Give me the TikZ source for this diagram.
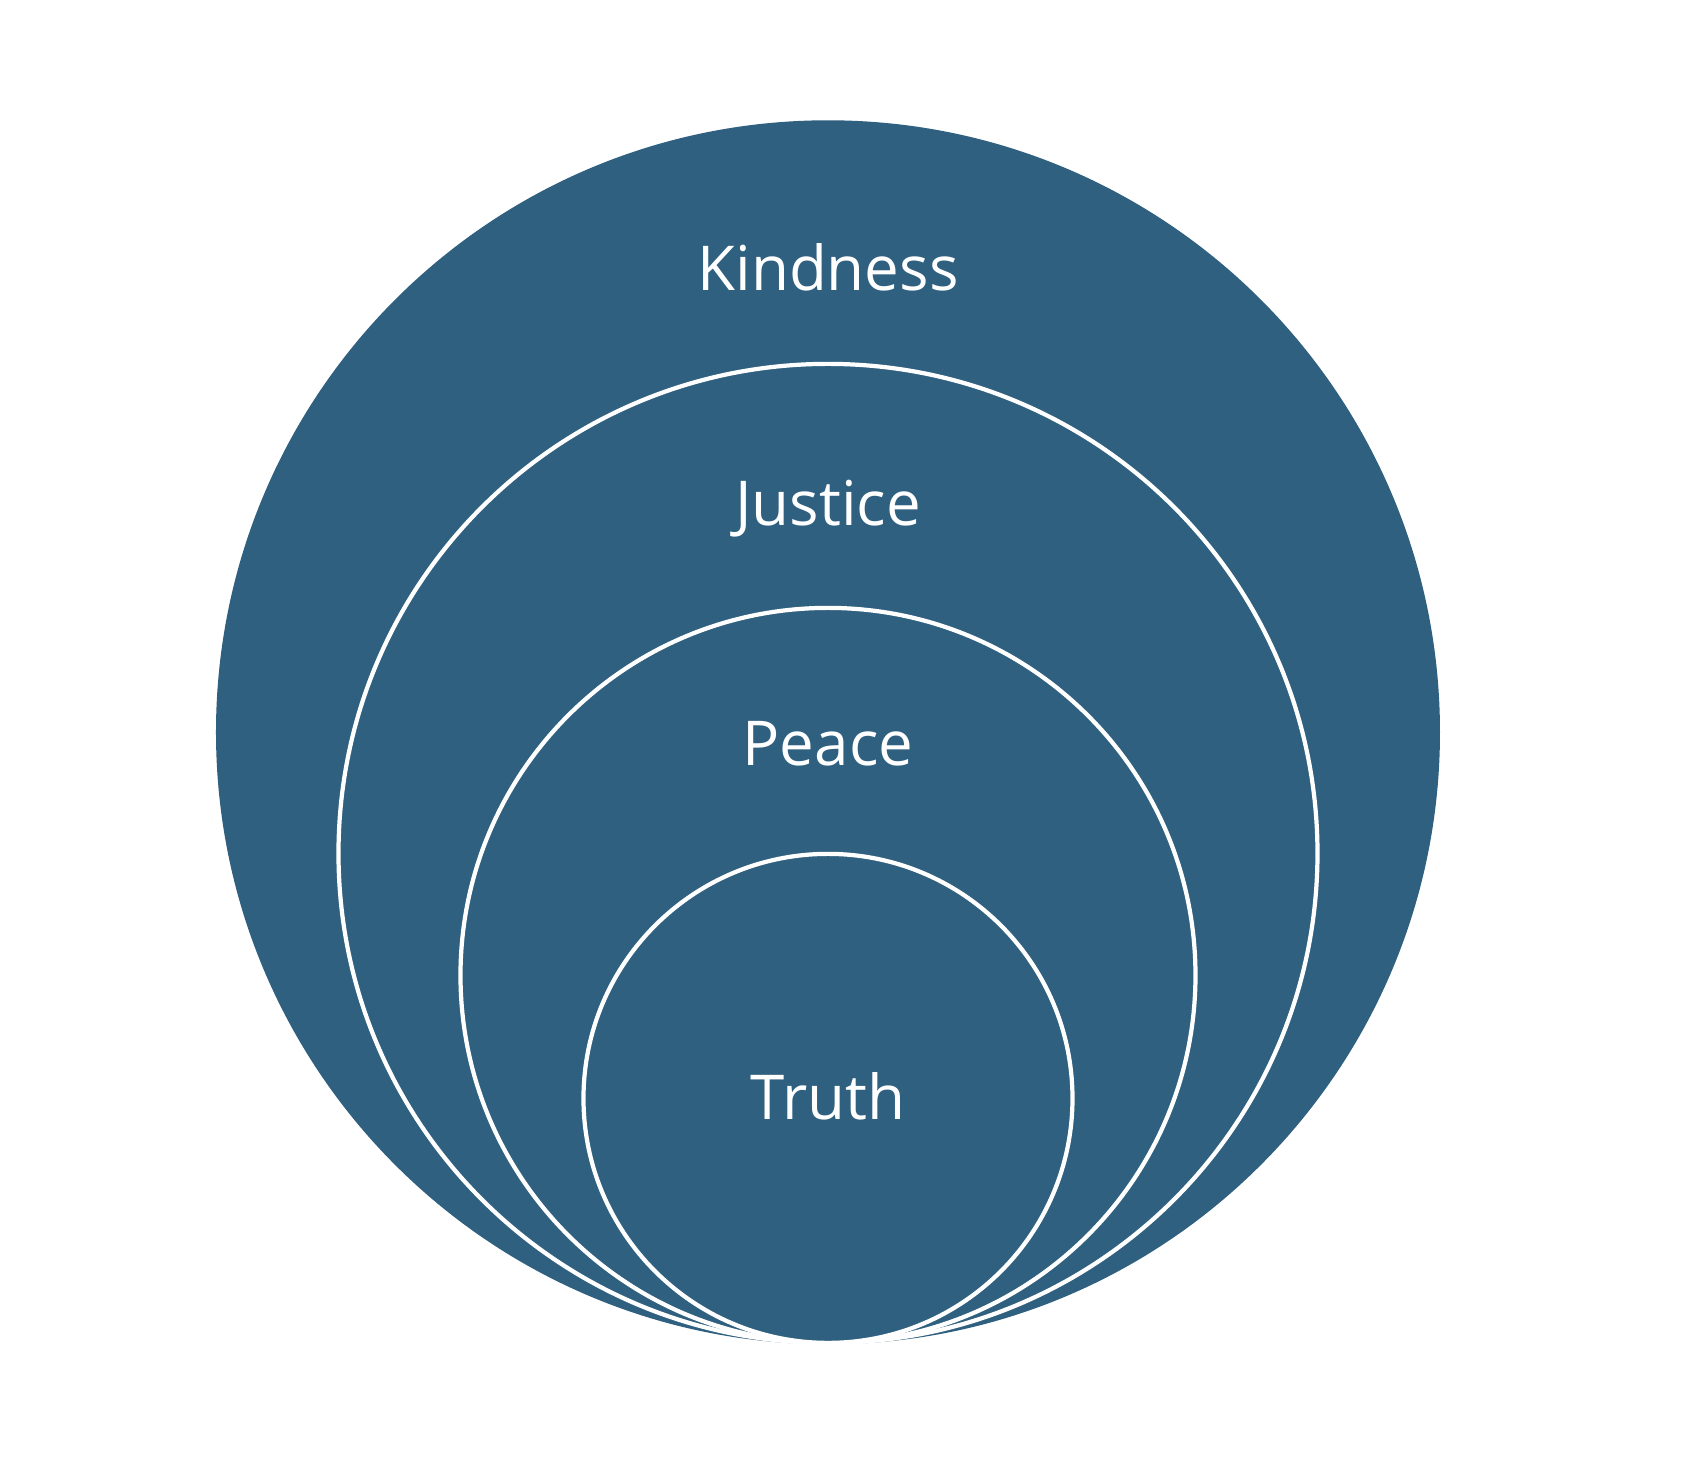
\documentclass[tikz,border=0pt]{standalone}
\usepackage{fontspec}
\setmainfont{Open Sans}
\usepackage{tikz}
\usetikzlibrary{positioning}
\definecolor{ringblue}{RGB}{47,96,128}
\tikzset{
    %Define style for the rings
    ring/.style={
           circle,
           inner sep=0pt,
           fill=ringblue,
           anchor=south},
    inner ring/.style={
           ring,
           draw=white,
           line width=1.2pt},
    %Define style for the labels
    word/.style={
           text=white,
           anchor=base,
           inner sep=0pt,
           font=\fontsize{17.6}{21}\selectfont}
}
\begin{document}
\begin{tikzpicture}
\useasboundingbox (-8.28,-1.21) rectangle (8.54,13.45);

 %rings, all touching at the bottom
\coordinate (base) at (0,0);
\node[ring, minimum size=12.24cm] (kind) at (base) {};
\node[inner ring, minimum size=9.79cm] (just) at (base) {};
\node[inner ring, minimum size=7.35cm] (peace) at (base) {};
\node[inner ring, minimum size=4.89cm] (truth) at (base) {};

 %labels
\node[word] (kindlbl) at (0,10.54) {Kindness};
\node[word] (justlbl) at (0,8.19) {Justice};
\node[word] (peacelbl) at (0,5.79) {Peace};
\node[word] (truthlbl) at (0,2.25) {Truth};

\end{tikzpicture}
\end{document}
